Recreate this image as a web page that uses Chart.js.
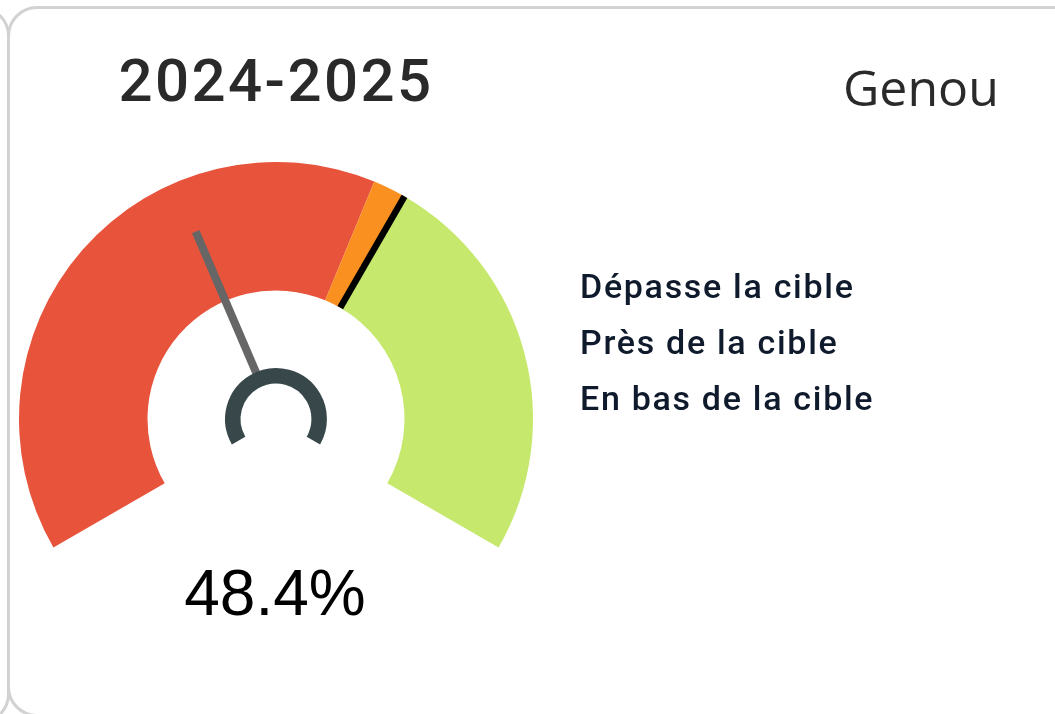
<!DOCTYPE html>
<html>
<head>
<meta charset="utf-8">
<script src="https://cdn.jsdelivr.net/npm/chart.js@4.4.1/dist/chart.umd.min.js"></script>
<style>
  html, body { margin: 0; padding: 0; width: 1055px; height: 714px; overflow: hidden; background: #ffffff; }
  #leftCard { position: absolute; left: -200px; top: 6px; width: 210px; height: 718px; box-sizing: border-box;
              border: 3px solid #d2d2d2; border-radius: 30px; }
  #card { position: absolute; left: 7px; top: 6px; width: 1200px; height: 711px; box-sizing: border-box;
          border: 3px solid #d2d2d2; border-radius: 30px; }
  canvas { position: absolute; left: 0; top: 0; }
  .txt { position: absolute; white-space: nowrap; }
  #period { left: 76px; width: 400px; text-align: center; top: 45px; font-family: Roboto, sans-serif; font-weight: 500;
            font-size: 60px; line-height: 72px; color: #2a2a2a; letter-spacing: 2.4px; }
  #joint { left: 843px; top: 52px; font-family: "Open Sans", sans-serif; font-size: 50px; line-height: 70px; color: #2a2a2a; }
  #legend { left: 580px; top: 258px; font-family: Roboto, sans-serif; font-weight: 500; font-size: 34px; line-height: 56px;
            color: #0f1a2c; letter-spacing: 1.7px; }
  #valueText { left: 125px; width: 300px; text-align: center; top: 553px; font-family: "Liberation Sans", Arial, sans-serif;
               font-size: 64px; line-height: 80px; color: #000000; }
</style>
</head>
<body>
<div id="leftCard"></div>
<div id="card"></div>
<canvas id="gauge" width="1055" height="714"></canvas>
<div class="txt" id="period"></div>
<div class="txt" id="joint"></div>
<div class="txt" id="legend"></div>
<div class="txt" id="valueText"></div>
<script>
// ---- data ----
const periodLabel = '2024-2025';
const jointLabel = 'Genou';
const bandLabels = ['En bas de la cible', 'Près de la cible', 'Dépasse la cible'];
const bandEnds = [71.25, 75, 120];          // upper bound of each band on the gauge scale
const bandColors = ['#E8533B', '#F9901F', '#C5E86D'];
const legendLabels = ['Dépasse la cible', 'Près de la cible', 'En bas de la cible'];
const gaugeMin = 0;
const gaugeMax = 120;
const targetValue = 75;
const currentValue = 48.4;

// ---- text ----
document.getElementById('period').textContent = periodLabel;
document.getElementById('joint').textContent = jointLabel;
document.getElementById('legend').innerHTML = legendLabels.map(l => '<div>' + l + '</div>').join('');
document.getElementById('valueText').textContent = currentValue.toFixed(1) + '%';

// band sizes from the band bounds
const bandSizes = bandEnds.map((e, i) => e - (i === 0 ? gaugeMin : bandEnds[i - 1]));

const ROTATION = -120;
const CIRCUMFERENCE = 240;

const needlePlugin = {
  id: 'needle',
  afterDatasetsDraw(chart) {
    const arc = chart.getDatasetMeta(0).data[0];
    if (!arc) return;
    const cx = arc.x, cy = arc.y;
    const R = arc.outerRadius, Ri = arc.innerRadius;
    const ctx = chart.ctx;
    const start = (ROTATION - 90) * Math.PI / 180;
    const span = CIRCUMFERENCE * Math.PI / 180;
    const toAngle = v => start + (v - gaugeMin) / (gaugeMax - gaugeMin) * span;
    ctx.save();
    // target marker
    const ta = toAngle(targetValue);
    ctx.strokeStyle = '#000000';
    ctx.lineWidth = 6.5;
    ctx.lineCap = 'butt';
    ctx.beginPath();
    ctx.moveTo(cx + Ri * Math.cos(ta), cy + Ri * Math.sin(ta));
    ctx.lineTo(cx + R * Math.cos(ta), cy + R * Math.sin(ta));
    ctx.stroke();
    // needle
    const ang = toAngle(currentValue);
    const r0 = R * 0.155, r1 = R * 0.793;
    ctx.strokeStyle = '#666666';
    ctx.lineWidth = 8;
    ctx.beginPath();
    ctx.moveTo(cx + r0 * Math.cos(ang), cy + r0 * Math.sin(ang));
    ctx.lineTo(cx + r1 * Math.cos(ang), cy + r1 * Math.sin(ang));
    ctx.stroke();
    // hub
    ctx.strokeStyle = '#37474A';
    ctx.lineWidth = 15.5;
    ctx.beginPath();
    ctx.arc(cx, cy, R * 0.168, start, start + span);
    ctx.stroke();
    ctx.restore();
  }
};

new Chart(document.getElementById('gauge'), {
  type: 'doughnut',
  data: {
    labels: bandLabels,
    datasets: [{
      data: bandSizes,
      backgroundColor: bandColors,
      borderWidth: 0,
      hoverOffset: 0
    }]
  },
  options: {
    responsive: false,
    animation: false,
    rotation: ROTATION,
    circumference: CIRCUMFERENCE,
    cutout: '50%',
    layout: { padding: { left: 19, top: 162, right: 522, bottom: 166.5 } },
    plugins: { legend: { display: false }, tooltip: { enabled: false } },
    events: []
  },
  plugins: [needlePlugin]
});
</script>
</body>
</html>
